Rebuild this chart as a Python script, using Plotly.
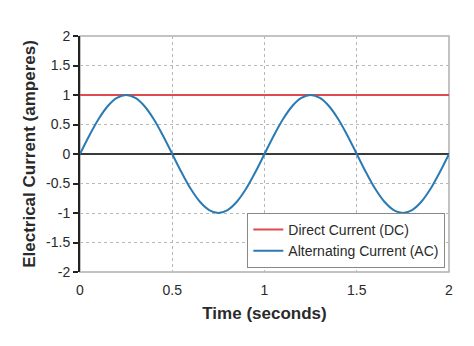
import plotly.graph_objects as go

# Time samples (seconds)
time_s = [round(i * 0.05, 2) for i in range(41)]

# Alternating current readings (amperes), one per time sample
ac_current = [
    0.00, 0.31, 0.59, 0.81, 0.95, 1.00, 0.95, 0.81, 0.59, 0.31,
    0.00, -0.31, -0.59, -0.81, -0.95, -1.00, -0.95, -0.81, -0.59, -0.31,
    0.00, 0.31, 0.59, 0.81, 0.95, 1.00, 0.95, 0.81, 0.59, 0.31,
    0.00, -0.31, -0.59, -0.81, -0.95, -1.00, -0.95, -0.81, -0.59, -0.31,
    0.00,
]

# Direct current level (amperes)
dc_time = [0, 2]
dc_current = [1, 1]

x_ticks = [0, 0.5, 1, 1.5, 2]
y_ticks = [-2, -1.5, -1, -0.5, 0, 0.5, 1, 1.5, 2]
y_tick_text = ["-2", "-1.5", "-1", "-0.5", "0", "0.5", "1", "1.5", "2"]

RED = "#dd4a50"
BLUE = "#2a7ab3"
FONT = "Liberation Sans, Arial, Helvetica, sans-serif"

fig = go.Figure()

# Zero reference line
fig.add_trace(go.Scatter(
    x=[0, 2], y=[0, 0], mode="lines",
    line=dict(color="#3a3a3a", width=2), showlegend=False, hoverinfo="skip",
))

fig.add_trace(go.Scatter(
    x=dc_time, y=dc_current, mode="lines", name="Direct Current (DC)",
    line=dict(color=RED, width=2),
))

fig.add_trace(go.Scatter(
    x=time_s, y=ac_current, mode="lines", name="Alternating Current (AC)",
    line=dict(color=BLUE, width=2, shape="spline"),
))

grid = dict(gridcolor="#b8b8b8", griddash="dot", gridwidth=1)

fig.update_layout(
    width=474, height=346,
    margin=dict(l=80, r=25, t=36, b=74),
    paper_bgcolor="white", plot_bgcolor="white",
    font=dict(family=FONT, color="#2a2a2a", size=14),
    xaxis=dict(
        range=[0, 2], tickvals=x_ticks, ticktext=["0", "0.5", "1", "1.5", "2"],
        ticks="outside", ticklen=5, tickcolor="rgba(0,0,0,0)",
        showline=False, zeroline=False, **grid,
        tickfont=dict(size=14),
        title=dict(text="<b>Time (seconds)</b>", font=dict(size=17), standoff=10),
    ),
    yaxis=dict(
        range=[-2, 2], tickvals=y_ticks, ticktext=y_tick_text,
        ticks="outside", ticklen=5, tickcolor="#222222", tickwidth=1.5,
        showline=True, linecolor="#222222", linewidth=2,
        zeroline=False, **grid,
        tickfont=dict(size=14),
        title=dict(text="<b>Electrical Current (amperes)</b>", font=dict(size=17), standoff=6),
    ),
    legend=dict(
        x=0.99, y=0.017, xanchor="right", yanchor="bottom",
        bgcolor="white", bordercolor="#888888", borderwidth=1,
        font=dict(size=14), itemwidth=30, tracegroupgap=4,
    ),
    shapes=[
        dict(type="rect", xref="paper", yref="paper", x0=0, y0=0, x1=1, y1=1,
             line=dict(color="#b0b0b0", width=1.5), layer="below"),
    ],
)

fig.write_html("out.html")
